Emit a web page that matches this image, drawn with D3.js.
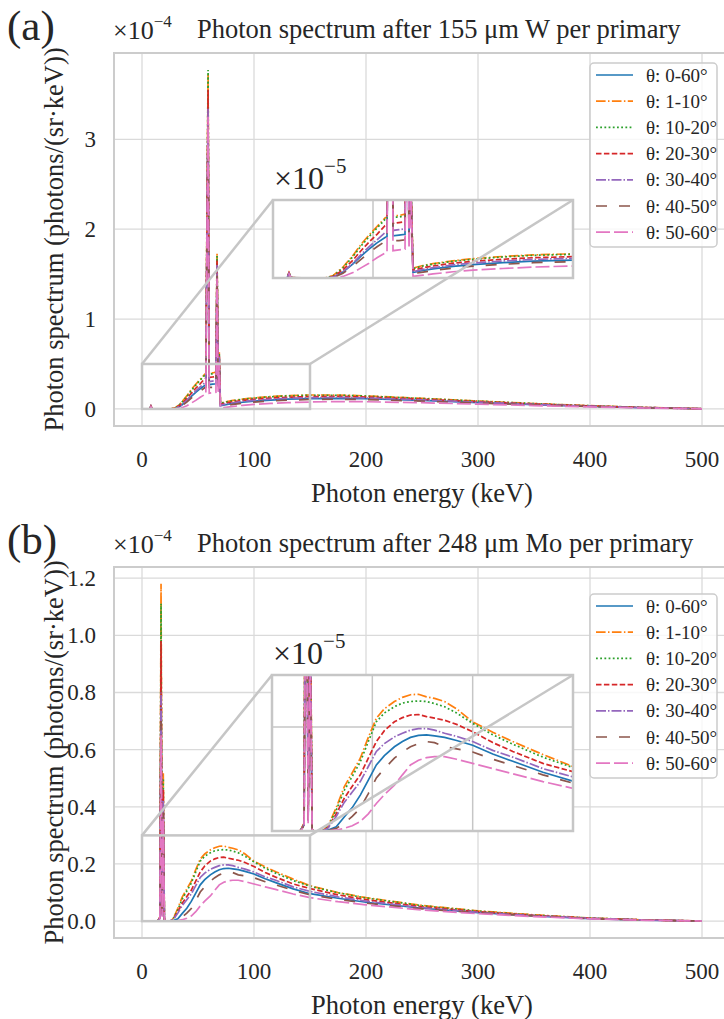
<!DOCTYPE html>
<html>
<head>
<meta charset="utf-8">
<title>Photon spectra</title>
<script src="https://cdn.jsdelivr.net/npm/d3@7/dist/d3.min.js"></script>
<style>
  body { margin: 0; background: #fff; }
  svg text { font-family: "Liberation Serif", "Times New Roman", serif; fill: #262626; }
</style>
</head>
<body>
<svg id="fig" width="724" height="1019"></svg>
<script>
// ---- data (values in units of 1e-5 photons/(sr·keV)) ----
var seriesLabels = ['θ: 0-60°', 'θ: 1-10°', 'θ: 10-20°', 'θ: 20-30°', 'θ: 30-40°', 'θ: 40-50°', 'θ: 50-60°'];
var xTicks = [0, 100, 200, 300, 400, 500];
var yTicksW = [0, 1, 2, 3];
var yTicksMo = [0, 0.2, 0.4, 0.6, 0.8, 1.0, 1.2];

// (a) after 155 um W
var energyW = [0, 7, 8, 9, 26, 30, 35, 40, 44, 48, 52, 56, 57, 58, 59, 60, 63, 66, 67, 68, 69, 70, 75, 80, 90, 100, 115, 130, 150, 175, 200, 250, 300, 350, 400, 450, 500];
var w0_60  = [0, 0, .30, .02, 0, .04, .38, .90, 1.40, 1.85, 2.25, 2.60, 2.65, 19.0, 33.0, 2.70, 2.75, 2.80, 15.5, 2.85, 5.6, .35, .48, .58, .74, .86, .98, 1.08, 1.15, 1.18, 1.13, .94, .71, .48, .29, .13, .02];
var w1_10  = [0, 0, .35, .02, 0, .15, .70, 1.45, 2.15, 2.75, 3.30, 3.85, 3.90, 21.5, 37.2, 4.00, 4.00, 4.10, 17.3, 4.10, 6.3, .64, .80, .92, 1.10, 1.24, 1.38, 1.48, 1.55, 1.55, 1.45, 1.18, .88, .60, .36, .16, .02];
var w10_20 = [0, 0, .34, .02, 0, .12, .65, 1.38, 2.05, 2.65, 3.20, 3.75, 3.80, 21.8, 37.7, 3.90, 3.90, 4.00, 17.0, 4.00, 6.2, .60, .77, .89, 1.07, 1.20, 1.35, 1.45, 1.52, 1.52, 1.43, 1.16, .87, .59, .35, .16, .02];
var w20_30 = [0, 0, .32, .02, 0, .08, .52, 1.15, 1.75, 2.30, 2.80, 3.35, 3.40, 20.5, 35.5, 3.50, 3.55, 3.60, 16.5, 3.65, 6.0, .50, .65, .77, .95, 1.07, 1.20, 1.30, 1.37, 1.39, 1.32, 1.08, .81, .55, .33, .15, .02];
var w30_40 = [0, 0, .30, .02, 0, .05, .40, .95, 1.50, 2.00, 2.45, 2.90, 2.95, 19.4, 33.5, 3.05, 3.10, 3.15, 16.0, 3.20, 5.8, .40, .55, .66, .84, .96, 1.09, 1.19, 1.26, 1.28, 1.22, 1.00, .75, .51, .31, .14, .02];
var w40_50 = [0, 0, .28, .02, 0, .02, .30, .75, 1.20, 1.62, 2.00, 2.35, 2.40, 18.5, 32.0, 2.40, 2.40, 2.45, 15.0, 2.50, 5.4, .28, .38, .48, .64, .76, .88, .98, 1.05, 1.08, 1.04, .87, .66, .45, .27, .12, .02];
var w50_60 = [0, 0, .25, .02, 0, 0, .10, .35, .65, .95, 1.30, 1.60, 1.65, 18.8, 32.5, 1.75, 1.80, 1.85, 14.5, 1.90, 5.2, .10, .18, .26, .40, .50, .61, .70, .77, .82, .80, .69, .53, .37, .22, .10, .01];

// (b) after 248 um Mo
var energyMo = [0, 14, 16, 17, 18, 19, 20, 21, 25, 28, 32, 36, 40, 44, 48, 52, 56, 61, 65, 69, 73, 77, 81, 86, 92, 100, 110, 120, 135, 150, 175, 200, 250, 300, 350, 400, 450, 500];
var m0_60  = [0, 0, .12, 8.5, .20, 4.0, .02, 0, 0, .02, .08, .27, .45, .69, .98, 1.27, 1.45, 1.62, 1.72, 1.80, 1.84, 1.85, 1.83, 1.80, 1.74, 1.65, 1.48, 1.34, 1.13, .96, .80, .66, .45, .30, .18, .09, .035, .005];
var m1_10  = [0, 0, .15, 11.8, .25, 5.2, .02, 0, 0, .10, .45, .85, 1.12, 1.40, 1.80, 2.17, 2.35, 2.49, 2.57, 2.62, 2.63, 2.58, 2.55, 2.49, 2.35, 2.10, 1.90, 1.72, 1.47, 1.24, 1.00, .82, .55, .36, .22, .11, .04, .005];
var m10_20 = [0, 0, .14, 11.1, .24, 5.0, .02, 0, 0, .09, .40, .78, 1.05, 1.33, 1.72, 2.10, 2.27, 2.39, 2.46, 2.49, 2.50, 2.49, 2.45, 2.39, 2.27, 2.07, 1.85, 1.67, 1.42, 1.22, .99, .81, .54, .35, .21, .11, .04, .005];
var m20_30 = [0, 0, .13, 9.8, .22, 4.6, .02, 0, 0, .07, .33, .63, .86, 1.08, 1.40, 1.72, 1.93, 2.10, 2.18, 2.23, 2.24, 2.20, 2.17, 2.13, 2.05, 1.91, 1.70, 1.53, 1.30, 1.14, .92, .75, .50, .33, .20, .10, .04, .005];
var m30_40 = [0, 0, .12, 8.0, .20, 4.2, .02, 0, 0, .06, .28, .55, .75, .95, 1.24, 1.53, 1.68, 1.81, 1.88, 1.94, 1.97, 1.97, 1.94, 1.88, 1.82, 1.72, 1.55, 1.42, 1.20, 1.04, .85, .70, .47, .31, .19, .10, .035, .005];
var m40_50 = [0, 0, .10, 7.0, .18, 3.8, .02, 0, 0, .01, .05, .15, .28, .44, .72, 1.02, 1.20, 1.40, 1.52, 1.62, 1.68, 1.72, 1.70, 1.62, 1.58, 1.52, 1.38, 1.26, 1.08, .92, .76, .63, .43, .29, .18, .09, .035, .005];
var m50_60 = [0, 0, .08, 6.5, .15, 3.6, .02, 0, 0, 0, .02, .05, .10, .18, .33, .53, .70, .88, 1.08, 1.27, 1.36, 1.41, 1.43, 1.43, 1.38, 1.30, 1.20, 1.10, .95, .82, .68, .57, .39, .26, .16, .08, .03, .005];

// ---- styles ----
var colors = ['#1f77b4', '#ff7f0e', '#2ca02c', '#d62728', '#9467bd', '#8c564b', '#e377c2'];
var dashes = [null, '9.6,2.4,1.5,2.4', '1.8,2.4', '5.5,2.4', '10,2,1.5,2', '11,12', '14,4'];
var lw = 1.7;
var gridColor = '#dadada', frameColor = '#cccccc', insetColor = '#c6c6c6';

var svg = d3.select('#fig');
svg.append('rect').attr('width', 724).attr('height', 1019).attr('fill', '#fff');

function drawPanel(p) {
  var x = d3.scaleLinear().domain([-25, 525]).range([114, 730]);
  var y = d3.scaleLinear().domain(p.yDomain).range([p.bottom, p.top]);
  var g = svg.append('g');
  var data = p.series.map(function(s, i) {
    return { i: i, pts: s.map(function(v, j) { return [p.energy[j], v / 10]; }) };
  });

  g.append('clipPath').attr('id', 'clip' + p.key).append('rect')
    .attr('x', 114).attr('y', p.top).attr('width', 616).attr('height', p.bottom - p.top);

  // grid
  g.selectAll('.vg').data(xTicks).enter().append('line')
    .attr('x1', x).attr('x2', x).attr('y1', p.top).attr('y2', p.bottom)
    .attr('stroke', gridColor).attr('stroke-width', 1.3);
  g.selectAll('.hg').data(p.yTicks).enter().append('line')
    .attr('x1', 114).attr('x2', 730).attr('y1', y).attr('y2', y)
    .attr('stroke', gridColor).attr('stroke-width', 1.3);

  // tick labels
  g.selectAll('.xl').data(xTicks).enter().append('text')
    .attr('x', x).attr('y', p.bottom + 41).attr('text-anchor', 'middle')
    .attr('font-size', 23).text(function(d) { return d; });
  g.selectAll('.yl').data(p.yTicks).enter().append('text')
    .attr('x', 96).attr('y', function(d) { return y(d) + 8; }).attr('text-anchor', 'end')
    .attr('font-size', 23).text(p.fmt);

  // curves
  var line = d3.line().x(function(d) { return x(d[0]); }).y(function(d) { return y(d[1]); });
  g.append('g').attr('clip-path', 'url(#clip' + p.key + ')')
    .selectAll('path').data(data).enter().append('path')
    .attr('d', function(d) { return line(d.pts); })
    .attr('fill', 'none').attr('stroke', function(d) { return colors[d.i]; })
    .attr('stroke-width', lw).attr('stroke-dasharray', function(d) { return dashes[d.i]; });

  // zoom rectangle
  var zx0 = x(0), zx1 = x(150), zy0 = y(0), zy1 = y(p.insetMax / 10);
  g.append('rect').attr('x', zx0).attr('y', zy1).attr('width', zx1 - zx0).attr('height', zy0 - zy1)
    .attr('fill', 'none').attr('stroke', insetColor).attr('stroke-width', 2.5);

  // inset
  var ib = p.insetBox;
  var ix = d3.scaleLinear().domain([0, 150]).range([ib[0], ib[1]]);
  var iy = d3.scaleLinear().domain([0, p.insetMax]).range([ib[3], ib[2]]);
  var ig = g.append('g');
  ig.append('clipPath').attr('id', 'iclip' + p.key).append('rect')
    .attr('x', ib[0]).attr('y', ib[2]).attr('width', ib[1] - ib[0]).attr('height', ib[3] - ib[2]);
  ig.append('rect').attr('x', ib[0]).attr('y', ib[2]).attr('width', ib[1] - ib[0]).attr('height', ib[3] - ib[2])
    .attr('fill', '#fff');
  ig.selectAll('.ivg').data([50, 100]).enter().append('line')
    .attr('x1', ix).attr('x2', ix).attr('y1', ib[2]).attr('y2', ib[3])
    .attr('stroke', insetColor).attr('stroke-width', 1.5);
  ig.selectAll('.ihg').data(p.insetGrid).enter().append('line')
    .attr('x1', ib[0]).attr('x2', ib[1]).attr('y1', iy).attr('y2', iy)
    .attr('stroke', insetColor).attr('stroke-width', 1.5);
  var iline = d3.line().x(function(d) { return ix(d[0]); }).y(function(d) { return iy(d[1] * 10); });
  ig.append('g').attr('clip-path', 'url(#iclip' + p.key + ')')
    .selectAll('path').data(data).enter().append('path')
    .attr('d', function(d) { return iline(d.pts.filter(function(q) { return q[0] <= 160; })); })
    .attr('fill', 'none').attr('stroke', function(d) { return colors[d.i]; })
    .attr('stroke-width', lw).attr('stroke-dasharray', function(d) { return dashes[d.i]; });
  ig.append('rect').attr('x', ib[0]).attr('y', ib[2]).attr('width', ib[1] - ib[0]).attr('height', ib[3] - ib[2])
    .attr('fill', 'none').attr('stroke', insetColor).attr('stroke-width', 2.5);
  var io = ig.append('text').attr('x', ib[0] + 1).attr('y', ib[2] - 11).attr('font-size', 32);
  io.append('tspan').text('×10');
  io.append('tspan').attr('dy', -16).attr('font-size', 21).text('−5');

  // connector lines
  g.selectAll('.conn').data([[zx0, zy1, ib[0], ib[2]], [zx1, zy1, ib[1], ib[2]]]).enter().append('line')
    .attr('x1', function(d) { return d[0]; }).attr('y1', function(d) { return d[1]; })
    .attr('x2', function(d) { return d[2]; }).attr('y2', function(d) { return d[3]; })
    .attr('stroke', insetColor).attr('stroke-width', 2.5);

  // legend
  var lg = g.append('g');
  lg.append('rect').attr('x', 590).attr('y', p.legendTop).attr('width', 127).attr('height', 184)
    .attr('rx', 4).attr('fill', '#fff').attr('fill-opacity', 0.8)
    .attr('stroke', frameColor).attr('stroke-width', 1.5);
  var items = lg.selectAll('.li').data(seriesLabels).enter().append('g')
    .attr('transform', function(d, i) { return 'translate(0,' + (p.legendTop + 12 + i * 26.2) + ')'; });
  items.append('line').attr('x1', 596).attr('x2', 633).attr('y1', 0).attr('y2', 0)
    .attr('stroke', function(d, i) { return colors[i]; }).attr('stroke-width', lw)
    .attr('stroke-dasharray', function(d, i) { return dashes[i]; });
  items.append('text').attr('x', 646).attr('y', 6.5).attr('font-size', 19).text(function(d) { return d; });

  // frame
  g.append('rect').attr('x', 114).attr('y', p.top).attr('width', 616).attr('height', p.bottom - p.top)
    .attr('fill', 'none').attr('stroke', frameColor).attr('stroke-width', 2);

  // texts
  svg.append('text').attr('x', 7).attr('y', p.top - 13).attr('font-size', 43).text(p.letter);
  var off = svg.append('text').attr('x', 113).attr('y', p.top - 14).attr('font-size', 26);
  off.append('tspan').text('×10');
  off.append('tspan').attr('dy', -12).attr('font-size', 17).text('−4');
  svg.append('text').attr('x', 197).attr('y', p.top - 15).attr('font-size', 26.5).text(p.title);
  svg.append('text').attr('x', 422).attr('y', p.bottom + 76).attr('text-anchor', 'middle')
    .attr('font-size', 26.5).text('Photon energy (keV)');
  svg.append('text')
    .attr('transform', 'translate(63,' + ((p.top + p.bottom) / 2) + ') rotate(-90)')
    .attr('text-anchor', 'middle').attr('font-size', 26.5)
    .text('Photon spectrum (photons/(sr·keV))');
}

drawPanel({
  key: 'a', letter: '(a)', title: 'Photon spectrum after 155 μm W per primary',
  top: 53, bottom: 426, yDomain: [-0.19, 3.96], yTicks: yTicksW, fmt: d3.format('d'),
  energy: energyW, series: [w0_60, w1_10, w10_20, w20_30, w30_40, w40_50, w50_60],
  insetBox: [273, 573, 200, 278], insetMax: 5, insetGrid: [], legendTop: 63
});
drawPanel({
  key: 'b', letter: '(b)', title: 'Photon spectrum after 248 μm Mo per primary',
  top: 567, bottom: 938, yDomain: [-0.059, 1.239], yTicks: yTicksMo, fmt: d3.format('.1f'),
  energy: energyMo, series: [m0_60, m1_10, m10_20, m20_30, m30_40, m40_50, m50_60],
  insetBox: [272, 573, 675, 831], insetMax: 3, insetGrid: [2], legendTop: 594
});
</script>
</body>
</html>
